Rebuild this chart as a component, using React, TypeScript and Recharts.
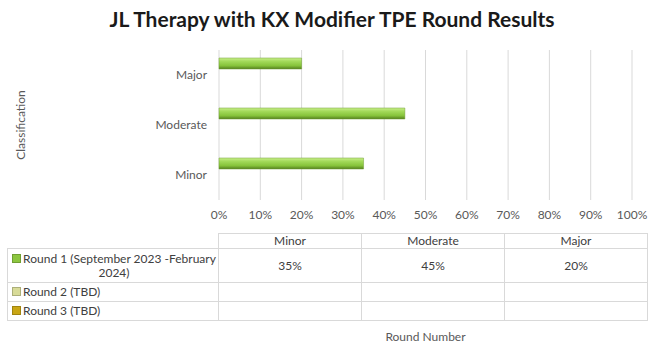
import { BarChart, Bar, XAxis, YAxis, CartesianGrid } from "recharts";

const categories = ["Minor", "Moderate", "Major"];
const round1 = [0.35, 0.45, 0.2];
const round2: (number | null)[] = [null, null, null];
const round3: (number | null)[] = [null, null, null];
const seriesNames = ["Round 1 (September 2023 -February 2024)", "Round 2 (TBD)", "Round 3 (TBD)"];
const seriesColors = ["#8cc63f", "#d8db98", "#c9a614"];
const xTicks = [0, 0.1, 0.2, 0.3, 0.4, 0.5, 0.6, 0.7, 0.8, 0.9, 1];

const data = categories.map((c, i) => ({
  category: c,
  round1: round1[i],
  round2: round2[i],
  round3: round3[i],
}));

const seriesValues = [round1, round2, round3];
const pct = (v: number | null) => (v == null ? "" : `${Math.round(v * 100)}%`);

const FONT = "Lato, 'Open Sans', sans-serif";
const cellBorder = "1px solid #d9d9d9";

export default function App() {
  return (
    <div
      style={{
        position: "absolute",
        left: 0,
        top: 0,
        width: 664,
        height: 362,
        background: "#fff",
        fontFamily: FONT,
        overflow: "hidden",
      }}
    >
      <div
        style={{
          position: "absolute",
          top: 6,
          left: 0,
          width: 664,
          textAlign: "center",
          fontSize: 21,
          fontWeight: 700,
          color: "#1a1a1a",
        }}
      >
        JL Therapy with KX Modifier TPE Round Results
      </div>

      <BarChart
        width={664}
        height={362}
        data={data}
        layout="vertical"
        margin={{ top: 50, right: 32, left: 0, bottom: 17 }}
        barSize={11}
        barGap={1}
      >
        <defs>
          <linearGradient id="barGreen" x1="0" y1="0" x2="0" y2="1">
            <stop offset="0%" stopColor="#c8ee8a" />
            <stop offset="30%" stopColor="#a3da5a" />
            <stop offset="70%" stopColor="#86c33a" />
            <stop offset="100%" stopColor="#557f1f" />
          </linearGradient>
        </defs>
        <CartesianGrid horizontal={false} stroke="#d9d9d9" />
        <XAxis
          type="number"
          domain={[0, 1]}
          ticks={xTicks}
          tickFormatter={(v: number) => `${Math.round(v * 100)}%`}
          axisLine={false}
          tickLine={false}
          tick={{ fill: "#595959", fontSize: 12 }}
          tickMargin={4}
          height={145}
          interval={0}
          label={{ value: "Round Number", position: "insideBottom", offset: 4, fill: "#595959", fontSize: 12 }}
        />
        <YAxis
          type="category"
          dataKey="category"
          reversed
          width={219}
          axisLine={false}
          tickLine={false}
          tick={{ fill: "#595959", fontSize: 12 }}
          tickMargin={6}
          label={{
            value: "Classification",
            angle: -90,
            position: "insideLeft",
            offset: 21,
            fill: "#595959",
            fontSize: 12,
            style: { textAnchor: "middle" },
          }}
        />
        <Bar dataKey="round1" fill="url(#barGreen)" stroke="#6e9e30" strokeWidth={0.5} isAnimationActive={false} />
        <Bar dataKey="round2" fill={seriesColors[1]} isAnimationActive={false} />
        <Bar dataKey="round3" fill={seriesColors[2]} isAnimationActive={false} />
      </BarChart>

      <table
        style={{
          position: "absolute",
          left: 7,
          top: 233,
          borderCollapse: "collapse",
          tableLayout: "fixed",
          fontSize: 12,
          color: "#404040",
          fontFamily: FONT,
        }}
      >
        <colgroup>
          <col style={{ width: 211 }} />
          <col style={{ width: 143 }} />
          <col style={{ width: 143 }} />
          <col style={{ width: 143 }} />
        </colgroup>
        <tbody>
          <tr style={{ height: 15 }}>
            <td style={{ borderBottom: cellBorder }} />
            {categories.map((c) => (
              <td key={c} style={{ border: cellBorder, textAlign: "center", padding: 0, lineHeight: "14px" }}>
                {c}
              </td>
            ))}
          </tr>
          {seriesNames.map((name, si) => (
            <tr key={name} style={{ height: si === 0 ? 34 : 19 }}>
              <td
                style={{
                  border: cellBorder,
                  textAlign: si === 0 ? "center" : "left",
                  padding: "0 2px 0 4px",
                  lineHeight: "14px",
                }}
              >
                <span
                  style={{
                    display: "inline-block",
                    width: 7,
                    height: 7,
                    marginRight: 2,
                    background: seriesColors[si],
                    border: "0.5px solid rgba(0,0,0,0.2)",
                  }}
                />
                {name}
              </td>
              {categories.map((c, ci) => (
                <td key={c} style={{ border: cellBorder, textAlign: "center", padding: 0 }}>
                  {pct(seriesValues[si][ci])}
                </td>
              ))}
            </tr>
          ))}
        </tbody>
      </table>
    </div>
  );
}
